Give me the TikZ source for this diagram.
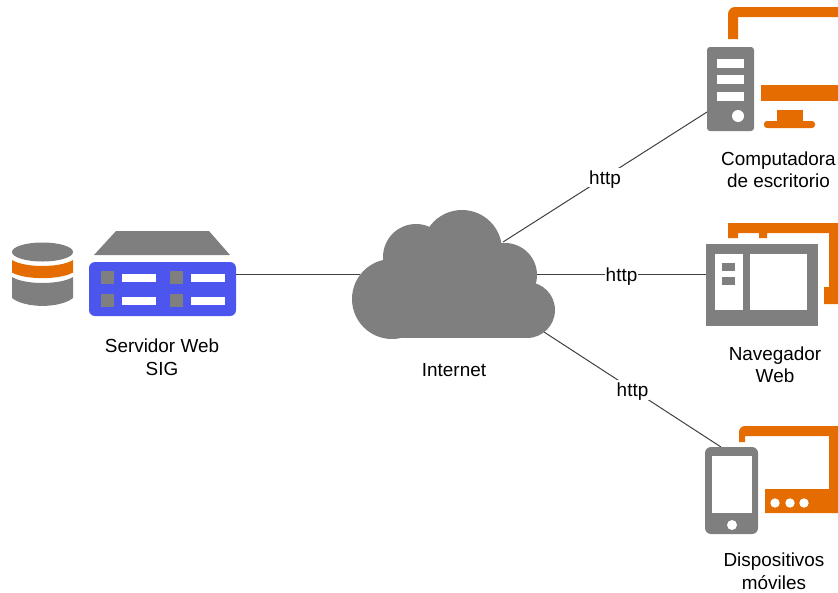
\documentclass[tikz,border=0pt]{standalone}
\usepackage{fontspec}
\setmainfont{Liberation Sans}
\definecolor{icongray}{HTML}{7F7F7F}
\definecolor{iconorange}{HTML}{E46C00}
\definecolor{serverblue}{HTML}{4C56EE}
\definecolor{linkgray}{HTML}{404040}
\tikzset{
  gr/.style={fill=icongray,draw=none},
  og/.style={fill=iconorange,draw=none},
  wh/.style={fill=white,draw=none},
  bl/.style={fill=serverblue,draw=none},
  link/.style={draw=linkgray,line width=1pt},
  lbl/.style={font=\fontsize{18.9}{22.5}\selectfont,align=center,inner sep=0pt},
  httplbl/.style={font=\fontsize{18.9}{22}\selectfont,fill=white,inner xsep=1pt,inner ysep=3pt,text height=13.5pt,text depth=0pt,yshift=-0.5pt}
}
\begin{document}
\begin{tikzpicture}[x=1pt,y=-1pt]
\useasboundingbox (0,0) rectangle (838,592);
% connector ends
\coordinate (srv) at (236,274);
\coordinate (cloudW) at (360,274);
\coordinate (cloudNE) at (503,242);
\coordinate (cloudE) at (537,274);
\coordinate (cloudSE) at (544,332);
\coordinate (pc) at (707,112);
\coordinate (nav) at (706,274);
\coordinate (mob) at (721,447);
\draw[link] (srv) -- (cloudW);
\draw[link] (cloudNE) -- node[httplbl] {http} (pc);
\draw[link] (cloudE) -- node[httplbl] {http} (nav);
\draw[link] (cloudSE) -- node[httplbl] {http} (mob);
% database
\fill[gr] (42.5,252) ellipse [x radius=30.5pt,y radius=9.5pt];
\fill[og] (12,260) -- (12,272.5) .. controls (25,280) and (60,280) .. (73,272.5) -- (73,260) .. controls (60,268) and (25,268) .. (12,260) -- cycle;
\fill[gr] (12,277) .. controls (25,285) and (60,285) .. (73,277) -- (73,298) .. controls (60,308.5) and (25,308.5) .. (12,298) -- cycle;
% server
\fill[gr] (116,231) -- (209,231) -- (230,255) -- (94,255) -- cycle;
\fill[bl,rounded corners=6pt] (89,262) rectangle (236,316);
\foreach \x in {101,170}{
  \fill[gr] (\x,271) rectangle ++(13,13);
  \fill[gr] (\x,294) rectangle ++(13,13);
}
\foreach \x in {122,191}{
  \fill[wh] (\x,274) rectangle ++(34,8);
  \fill[wh] (\x,297) rectangle ++(34,7.5);
}
% cloud
\fill[gr] (392,299) circle [radius=40pt];
\fill[gr] (416,257) circle [radius=33pt];
\fill[gr] (462,250) circle [radius=40pt];
\fill[gr] (505,275) circle [radius=32pt];
\fill[gr] (527,310) circle [radius=28pt];
\fill[gr] (392,338) rectangle (527,270);
% desktop
\fill[og] (728,39) [rounded corners=7pt] -- (728,7) [sharp corners] -- (838,7) -- (838,17) -- (738,17) -- (738,39) -- cycle;
\fill[og] (761,85) rectangle (838,101);
\fill[og] (777,110) rectangle (803,122);
\fill[og,rounded corners=3pt] (764,128) -- (764,121) -- (815,121) -- (815,128) -- cycle;
\fill[gr,rounded corners=3pt] (707,47) rectangle (754,131);
\foreach \y/\h in {59/9,75/9,92/8.5}{\fill[wh] (717,\y) rectangle ++(27,\h);}
\fill[wh] (738,116) circle [radius=6pt];
% browser
\fill[og] (728,223) -- (838,223) -- (838,304) -- (824,304) -- (824,287) -- (829,287) -- (829,233) -- (767,233) -- (767,238) -- (759,238) -- (759,233) -- (738,233) -- (738,238) -- (728,238) -- cycle;
\fill[gr] (706,244) rectangle (818,326);
\fill[wh] (715,254) rectangle (743,310);
\fill[wh] (750,254) rectangle (807,310);
\fill[gr] (722,263) rectangle (735,271);
\fill[gr] (722,277) rectangle (735,285);
% mobile
\fill[og] (739,442) [rounded corners=6pt] -- (739,426) [sharp corners] -- (838,426) -- (838,513) -- (765,513) -- (765,489) -- (829,489) -- (829,436) -- (745,436) -- (745,442) -- cycle;
\foreach \x in {775,790,804}{\fill[wh] (\x,503) circle [radius=4.7pt];}
\fill[gr,rounded corners=6pt] (705,447) rectangle (758,534);
\fill[wh] (712,456) rectangle (752,513);
\fill[wh] (732,525) circle [radius=5pt];
% labels
\node[lbl] (lblsrv) at (162,357) {Servidor Web\\SIG};
\node[lbl] (lblnet) at (454,370) {Internet};
\node[lbl] (lblpc) at (778.5,169.5) {Computadora\\de escritorio};
\node[lbl] (lblnav) at (775,364.5) {Navegador\\Web};
\node[lbl] (lblmob) at (774,571) {Dispositivos\\móviles};
\end{tikzpicture}
\end{document}
